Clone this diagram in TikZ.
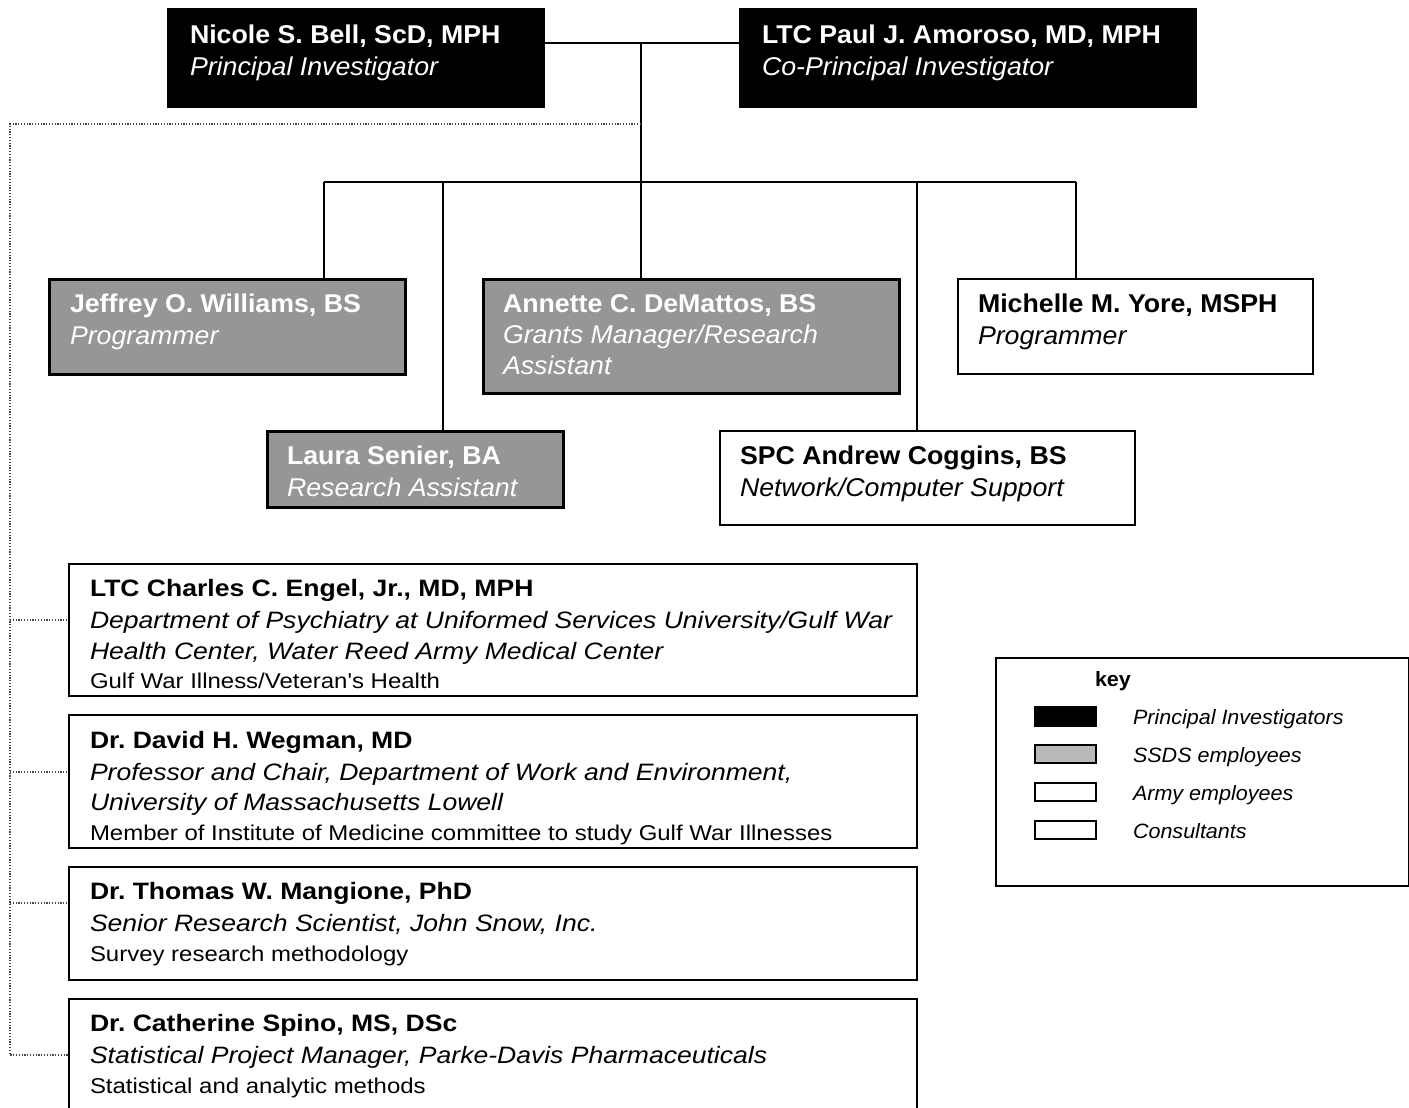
\documentclass[tikz,border=0pt]{standalone}
\usepackage{fontspec}
\setmainfont{Liberation Sans}[FakeStretch=1.04]
\newfontfamily\widesans{Liberation Sans}[FakeStretch=1.12]
\usetikzlibrary{calc}
\definecolor{ssdsgray}{RGB}{150,150,150}
\definecolor{keygray}{RGB}{185,185,185}
\definecolor{dotgray}{RGB}{70,70,70}
\tikzset{
  pibox/.style={draw=black, fill=black, line width=2pt, anchor=north west, inner sep=0pt},
  ssdsbox/.style={draw=black, fill=ssdsgray, line width=2.5pt, anchor=north west, inner sep=0pt},
  armybox/.style={draw=black, fill=white, line width=2pt, anchor=north west, inner sep=0pt},
  txt/.style={anchor=base west, inner sep=0pt, outer sep=0pt},
  nmA/.style={txt, font=\bfseries\fontsize{25.7}{30}\selectfont},
  roleA/.style={txt, font=\itshape\fontsize{25.7}{30}\selectfont},
  nmC/.style={txt, font=\widesans\bfseries\fontsize{23.7}{30}\selectfont},
  roleC/.style={txt, font=\widesans\itshape\fontsize{23.7}{30}\selectfont},
  noteC/.style={txt, font=\widesans\fontsize{21.4}{26}\selectfont},
  keyhead/.style={txt, font=\bfseries\fontsize{20.7}{24}\selectfont},
  keylbl/.style={txt, font=\itshape\fontsize{20.7}{24}\selectfont},
  link/.style={line width=2pt},
  dotlink/.style={draw=dotgray, line width=1.6pt, dash pattern=on 1.2pt off 1.6pt},
}
\frenchspacing
\begin{document}
\begin{tikzpicture}[x=1pt, y=-1pt]
\useasboundingbox (0,0) rectangle (1409,1108);
\clip (0,0) rectangle (1409,1108);
\fill[white] (0,0) rectangle (1409,1108);

% ---- principal investigators
\node[pibox, minimum width=376, minimum height=98] (bell) at (167,8) {};
\node[nmA, white] (bell-1) at (190,44) {Nicole S. Bell, ScD, MPH};
\node[roleA, white] (bell-2) at (190,76) {Principal Investigator};

\node[pibox, minimum width=456, minimum height=98] (amoroso) at (739,8) {};
\node[nmA, white] (amoroso-1) at (762,44) {LTC Paul J. Amoroso, MD, MPH};
\node[roleA, white] (amoroso-2) at (762,76) {Co-Principal Investigator};

% ---- staff
\node[ssdsbox, minimum width=356, minimum height=95] (williams) at (48,278) {};
\node[nmA, white] (williams-1) at (70,312) {Jeffrey O. Williams, BS};
\node[roleA, white] (williams-2) at (70,344) {Programmer};

\node[ssdsbox, minimum width=416, minimum height=114] (demattos) at (482,278) {};
\node[nmA, white] (demattos-1) at (503,312) {Annette C. DeMattos, BS};
\node[roleA, white] (demattos-2) at (503,343) {Grants Manager/Research};
\node[roleA, white] (demattos-3) at (503,374) {Assistant};

\node[armybox, minimum width=355, minimum height=95] (yore) at (957,278) {};
\node[nmA] (yore-1) at (978,312) {Michelle M. Yore, MSPH};
\node[roleA] (yore-2) at (978,344) {Programmer};

\node[ssdsbox, minimum width=296, minimum height=76] (senier) at (266,430) {};
\node[nmA, white] (senier-1) at (287,464) {Laura Senier, BA};
\node[roleA, white] (senier-2) at (287,496) {Research Assistant};

\node[armybox, minimum width=415, minimum height=94] (coggins) at (719,430) {};
\node[nmA] (coggins-1) at (740,464) {SPC Andrew Coggins, BS};
\node[roleA] (coggins-2) at (740,496) {Network/Computer Support};

% ---- consultants
\node[armybox, minimum width=848, minimum height=132] (engel) at (68,563) {};
\node[nmC] (engel-1) at (90,596) {LTC Charles C. Engel, Jr., MD, MPH};
\node[roleC] (engel-2) at (90,628) {Department of Psychiatry at Uniformed Services University/Gulf War};
\node[roleC] (engel-3) at (90,659) {Health Center, Water Reed Army Medical Center};
\node[noteC] (engel-4) at (90,688) {Gulf War Illness/Veteran's Health};

\node[armybox, minimum width=848, minimum height=133] (wegman) at (68,714) {};
\node[nmC] (wegman-1) at (90,748) {Dr. David H. Wegman, MD};
\node[roleC] (wegman-2) at (90,780) {Professor and Chair, Department of Work and Environment,};
\node[roleC] (wegman-3) at (90,810) {University of Massachusetts Lowell};
\node[noteC] (wegman-4) at (90,840) {Member of Institute of Medicine committee to study Gulf War Illnesses};

\node[armybox, minimum width=848, minimum height=113] (mangione) at (68,866) {};
\node[nmC] (mangione-1) at (90,899) {Dr. Thomas W. Mangione, PhD};
\node[roleC] (mangione-2) at (90,931) {Senior Research Scientist, John Snow, Inc.};
\node[noteC] (mangione-3) at (90,961) {Survey research methodology};

\node[armybox, minimum width=848, minimum height=130] (spino) at (68,998) {};
\node[nmC] (spino-1) at (90,1031) {Dr. Catherine Spino, MS, DSc};
\node[roleC] (spino-2) at (90,1063) {Statistical Project Manager, Parke-Davis Pharmaceuticals};
\node[noteC] (spino-3) at (90,1093) {Statistical and analytic methods};

% ---- key
\node[armybox, minimum width=413, minimum height=228] (key) at (995,657) {};
\node[keyhead] (key-t) at (1095,686) {key};
\node[pibox, minimum width=61, minimum height=19] (key-pi) at (1034,706) {};
\node[keylbl] (key-pi-l) at (1133,724) {Principal Investigators};
\node[ssdsbox, fill=keygray, line width=2pt, minimum width=61, minimum height=18] (key-ss) at (1034,744) {};
\node[keylbl] (key-ss-l) at (1133,762) {SSDS employees};
\node[armybox, minimum width=61, minimum height=18] (key-ar) at (1034,782) {};
\node[keylbl] (key-ar-l) at (1133,800) {Army employees};
\node[armybox, minimum width=61, minimum height=18] (key-co) at (1034,820) {};
\node[keylbl] (key-co-l) at (1133,838) {Consultants};

% ---- reporting lines
\coordinate (pi-mid) at (641,43);
\coordinate (bus) at (641,182);
\coordinate (bus-w) at (324,182);
\coordinate (bus-s) at (443,182);
\coordinate (bus-c) at (917,182);
\coordinate (bus-y) at (1076,182);
\draw[link] (bell.east |- pi-mid) -- (amoroso.west |- pi-mid);
\draw[link] (pi-mid) -- (bus);
\draw[link] (bus-w) -- (bus-y);
\draw[link] (bus-w) -- (bus-w |- williams.north);
\draw[link] (bus-s) -- (bus-s |- senier.north);
\draw[link] (bus) -- (bus |- demattos.north);
\draw[link] (bus-c) -- (bus-c |- coggins.north);
\draw[link] (bus-y) -- (bus-y |- yore.north);

% ---- consultant lines
\coordinate (dot-top) at (641,124);
\coordinate (rail-top) at (10,124);
\coordinate (tap-e) at (10,620);
\coordinate (tap-w) at (10,772);
\coordinate (tap-m) at (10,903);
\coordinate (tap-s) at (10,1055);
\draw[dotlink] (dot-top) -- (rail-top) -- (tap-s) -- (tap-s -| spino.west);
\draw[dotlink] (tap-e) -- (tap-e -| engel.west);
\draw[dotlink] (tap-w) -- (tap-w -| wegman.west);
\draw[dotlink] (tap-m) -- (tap-m -| mangione.west);
\end{tikzpicture}
\end{document}
